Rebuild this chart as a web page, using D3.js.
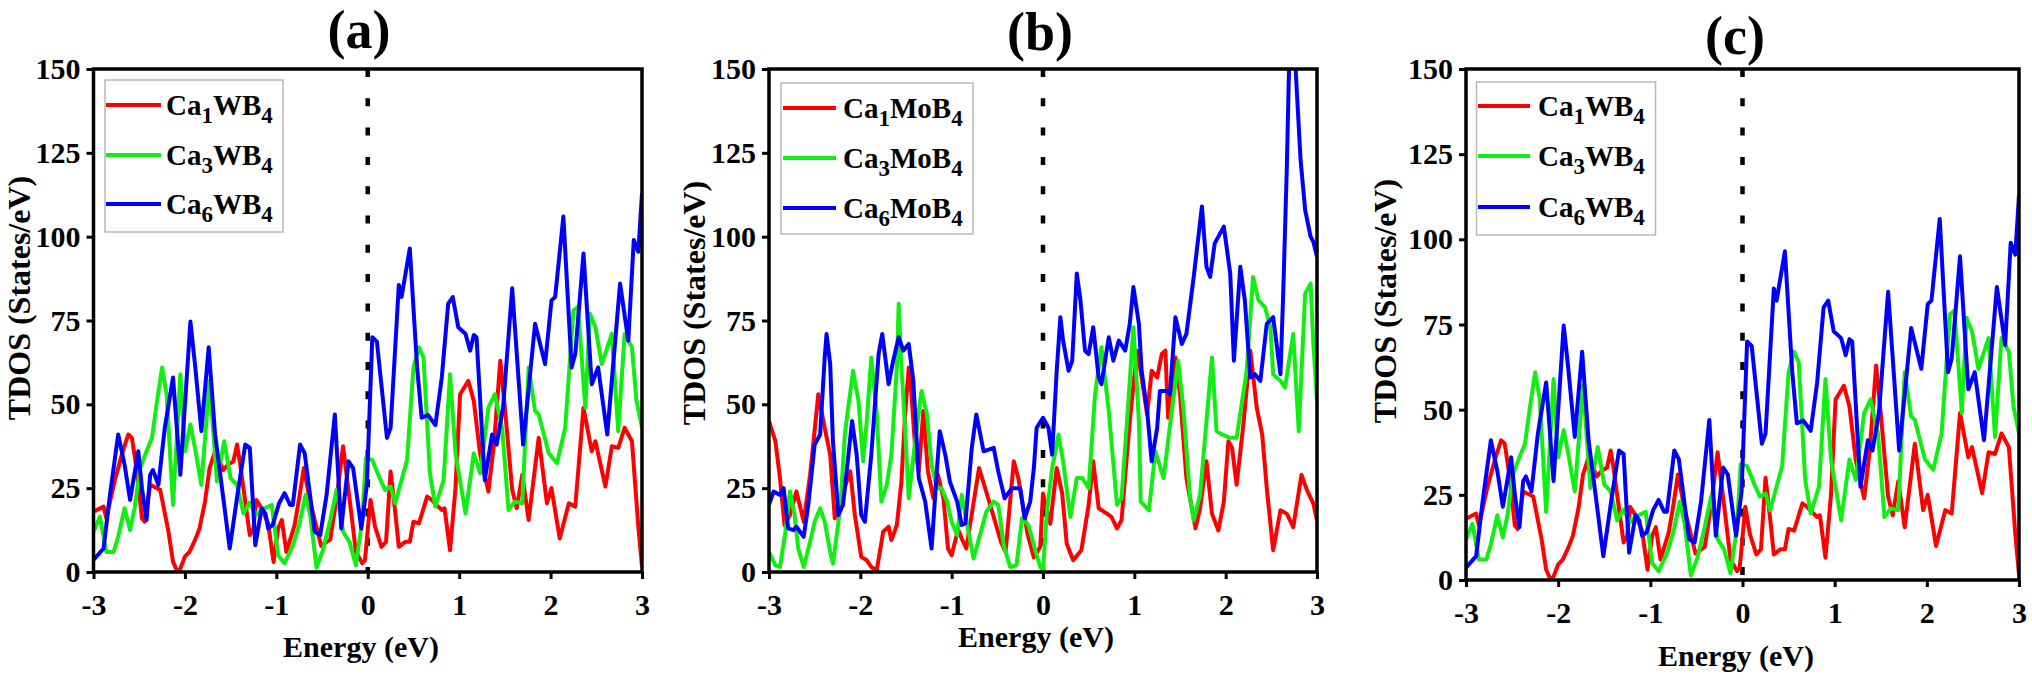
<!DOCTYPE html>
<html>
<head>
<meta charset="utf-8">
<script src="https://cdn.jsdelivr.net/npm/d3@7"></script>
<style>
  body { margin: 0; background: #fff; }
  svg { display: block; }
</style>
</head>
<body>
<svg id="chart" width="2032" height="680"></svg>
<script>
// ticks and labels
var xTicks = [-3, -2, -1, 0, 1, 2, 3];
var yTicks = [0, 25, 50, 75, 100, 125, 150];
var panelTitles = ["(a)", "(b)", "(c)"];
var legendW = ["Ca1WB4", "Ca3WB4", "Ca6WB4"];
var legendMo = ["Ca1MoB4", "Ca3MoB4", "Ca6MoB4"];

// TDOS, [energy eV, states/eV]
var ca1WB4 = [[-3.0,18],[-2.89,19.5],[-2.86,16],[-2.77,27],[-2.69,35],[-2.62,41],[-2.58,40],[-2.53,31],
  [-2.47,16],[-2.44,15],[-2.38,26],[-2.27,24.5],[-2.18,12],[-2.13,3],[-2.09,0.6],[-2.05,1],[-2.0,4.6],
  [-1.95,6],[-1.89,9.5],[-1.84,13],[-1.78,21],[-1.73,31],[-1.67,36],[-1.62,33],[-1.58,30.4],[-1.53,32],
  [-1.47,33],[-1.43,38],[-1.40,33],[-1.34,21],[-1.29,11],[-1.25,13],[-1.22,21.5],[-1.16,19],[-1.09,14.5],
  [-1.03,3],[-0.98,13],[-0.94,15.5],[-0.89,6],[-0.80,14],[-0.75,22],[-0.70,31],[-0.63,21],[-0.51,7.8],
  [-0.41,9.7],[-0.34,22],[-0.27,37.5],[-0.20,22],[-0.13,6],[-0.06,2.6],[-0.03,3.6],[0.03,21.5],[0.08,13.5],
  [0.15,7.5],[0.20,9],[0.25,30],[0.30,18],[0.34,7.5],[0.41,9],[0.46,9],[0.50,15],[0.56,14.5],[0.65,22.5],
  [0.70,21.5],[0.77,19.5],[0.81,18.5],[0.84,19],[0.90,6.5],[0.96,25],[1.01,53],[1.10,57],[1.16,51],
  [1.23,35],[1.32,24],[1.38,38],[1.45,63],[1.50,49],[1.58,24.5],[1.63,19],[1.69,29],[1.76,15.5],[1.87,40],
  [1.96,20.5],[2.01,25],[2.10,10],[2.20,20.5],[2.27,19.5],[2.36,49],[2.45,36],[2.49,39],[2.60,25.5],
  [2.67,37.5],[2.74,37],[2.81,43],[2.89,39],[2.96,13.5],[3.0,1.6]];

var ca3WB4 = [[-3.0,12],[-2.93,16.5],[-2.86,6],[-2.78,6],[-2.73,10.5],[-2.66,19],[-2.60,12.5],[-2.55,19],
  [-2.49,31],[-2.42,36],[-2.36,40],[-2.31,50],[-2.25,61],[-2.20,53],[-2.13,20],[-2.05,59],[-2.00,36],
  [-1.94,44],[-1.89,37],[-1.82,26],[-1.73,57],[-1.65,27],[-1.57,39],[-1.50,28],[-1.43,26],[-1.36,17.5],
  [-1.29,20.7],[-1.22,17],[-1.15,18.7],[-1.05,20],[-0.98,5],[-0.91,2.6],[-0.82,7.8],[-0.75,14],[-0.68,23],
  [-0.63,17],[-0.56,1.3],[-0.49,6.5],[-0.41,15.5],[-0.34,24.6],[-0.27,12],[-0.20,9],[-0.13,2],[-0.06,15.5],
  [-0.02,34],[0.05,33.4],[0.14,27.4],[0.19,24.5],[0.25,25.4],[0.30,20.5],[0.43,33.4],[0.50,61],[0.56,67],
  [0.61,64],[0.68,29.4],[0.74,19.5],[0.83,27.4],[0.90,59],[0.96,35.4],[1.07,17.5],[1.16,35.4],[1.23,29.4],
  [1.32,49],[1.39,53],[1.47,43],[1.54,18.5],[1.61,21],[1.69,20.5],[1.76,61],[1.83,48],[1.87,47],[1.98,35.4],
  [2.07,32.4],[2.16,43],[2.25,78],[2.30,79],[2.38,49],[2.43,77],[2.49,73],[2.56,62],[2.67,71],[2.74,42],
  [2.81,71],[2.89,67],[2.94,51],[3.0,43]];

var ca6WB4 = [[-3.0,3.6],[-2.89,7],[-2.82,23],[-2.73,41],[-2.66,32],[-2.60,21.5],[-2.51,36],[-2.47,25],
  [-2.42,15.5],[-2.38,29],[-2.35,30.4],[-2.29,26],[-2.22,43],[-2.13,58],[-2.05,29],[-1.94,74.7],[-1.89,62],
  [-1.82,42],[-1.74,67],[-1.67,41],[-1.58,22],[-1.51,7],[-1.42,24],[-1.34,38],[-1.29,37],[-1.23,8],
  [-1.16,19],[-1.12,17.5],[-1.09,13],[-1.04,14],[-0.97,20.5],[-0.91,23.5],[-0.85,20],[-0.82,20],[-0.74,38],
  [-0.69,35.4],[-0.58,12],[-0.52,11],[-0.45,23],[-0.36,47],[-0.29,13],[-0.21,33],[-0.16,31],[-0.07,13],
  [-0.01,26],[0.05,70],[0.10,68.7],[0.21,40],[0.25,43],[0.34,85.6],[0.37,82],[0.46,96.5],[0.54,61],
  [0.59,46],[0.66,46.8],[0.74,43.8],[0.81,58],[0.88,80],[0.93,82],[0.99,73],[1.07,71],[1.12,66],[1.16,70.7],
  [1.19,70],[1.28,27.4],[1.36,41],[1.41,38],[1.48,49],[1.58,84.6],[1.70,38],[1.83,74],[1.94,62],[2.01,81],
  [2.05,82],[2.14,106],[2.23,61],[2.27,65],[2.36,95],[2.45,56],[2.52,61],[2.62,41],[2.76,86],[2.85,69],
  [2.91,99],[2.96,95.5],[3.0,113]];

var ca1MoB4 = [[-3.0,45],[-2.93,39],[-2.88,28],[-2.83,14],[-2.77,17],[-2.70,24],[-2.62,15],[-2.55,29],
  [-2.46,53],[-2.39,43],[-2.33,35],[-2.28,16],[-2.20,23],[-2.11,30],[-2.06,17],[-1.99,4.5],[-1.93,3.5],
  [-1.88,1.5],[-1.82,0.5],[-1.75,12],[-1.69,13.5],[-1.66,9.5],[-1.60,14],[-1.55,27],[-1.51,47],[-1.47,61],
  [-1.44,53],[-1.40,37],[-1.36,30],[-1.31,48],[-1.26,30],[-1.20,22],[-1.15,29],[-1.09,22],[-1.04,7],[-1.0,5],
  [-0.93,12.7],[-0.89,10],[-0.84,7],[-0.70,31],[-0.60,22],[-0.46,9],[-0.41,6],[-0.32,33],[-0.27,28],
  [-0.17,11.4],[-0.10,4.3],[-0.03,7.5],[0.0,23.4],[0.08,14.4],[0.15,31],[0.21,23.4],[0.26,8.4],[0.33,3.5],
  [0.42,6.5],[0.50,20],[0.55,33],[0.61,19],[0.70,17.4],[0.75,16.4],[0.81,13],[0.86,15.4],[0.95,45],[1.03,66],
  [1.08,58],[1.14,47],[1.19,60],[1.25,58],[1.30,65],[1.34,66],[1.37,46],[1.45,64],[1.50,53],[1.57,28],
  [1.67,13],[1.72,19],[1.79,33],[1.85,17.4],[1.92,12.4],[1.98,21],[2.03,39],[2.07,37],[2.12,26],[2.19,43],
  [2.27,66],[2.34,49],[2.40,41],[2.45,25],[2.52,6.5],[2.60,18.4],[2.67,17.4],[2.74,13.4],[2.83,29],
  [2.89,24.4],[2.96,20.4],[3.0,15.4]];

var ca3MoB4 = [[-3.0,6],[-2.93,2],[-2.88,1.5],[-2.82,12],[-2.77,24],[-2.72,17],[-2.68,7],[-2.62,1.5],
  [-2.55,9],[-2.50,15],[-2.44,19],[-2.39,15],[-2.33,6],[-2.30,2.5],[-2.22,19],[-2.17,41],[-2.08,60],[-2.02,51],
  [-1.97,33],[-1.93,45],[-1.88,64],[-1.82,47],[-1.77,21],[-1.71,26],[-1.66,35],[-1.60,61],[-1.58,80],
  [-1.55,61],[-1.51,43],[-1.47,22],[-1.40,39],[-1.33,54],[-1.27,47],[-1.22,32],[-1.16,25],[-1.11,25],
  [-1.05,21],[-1.0,15],[-0.94,11],[-0.89,23],[-0.83,14],[-0.76,4],[-0.69,11],[-0.62,18],[-0.54,21],[-0.49,20],
  [-0.43,8],[-0.36,1.5],[-0.29,2],[-0.23,16],[-0.16,14],[-0.09,7],[-0.03,1.5],[0.0,0.5],[0.04,17],[0.10,31],
  [0.17,41],[0.22,33],[0.30,16.4],[0.37,28],[0.43,28],[0.50,25],[0.57,53],[0.64,67],[0.72,48],[0.81,20],
  [0.86,22],[0.94,53],[0.99,73],[1.05,45],[1.07,21],[1.16,18.4],[1.23,36],[1.32,28],[1.41,48],[1.48,63],
  [1.54,48],[1.61,22],[1.65,15.4],[1.72,23],[1.85,64],[1.90,42],[1.96,41],[2.05,40],[2.12,40],[2.23,60],
  [2.30,88],[2.36,81],[2.43,79],[2.49,73],[2.52,59],[2.60,57],[2.65,55],[2.74,71],[2.80,42],[2.87,83],
  [2.93,86],[2.96,68],[3.0,51]];

var ca6MoB4 = [[-3.0,20],[-2.95,24],[-2.88,23],[-2.84,25],[-2.79,13],[-2.73,12.5],[-2.70,13.5],[-2.62,10.5],
  [-2.57,20],[-2.50,38],[-2.44,41],[-2.39,64],[-2.37,71],[-2.33,62],[-2.30,39],[-2.24,17],[-2.19,20],
  [-2.13,35],[-2.09,45],[-2.04,35],[-1.99,17],[-1.95,15],[-1.88,35],[-1.80,65],[-1.76,71],[-1.69,56],
  [-1.64,63],[-1.58,70],[-1.53,66],[-1.47,68],[-1.42,57],[-1.36,28],[-1.29,21],[-1.22,7],[-1.16,31],
  [-1.13,42],[-1.07,35],[-1.02,27],[-0.94,21],[-0.89,14],[-0.85,14.5],[-0.78,37],[-0.73,47],[-0.65,36],
  [-0.54,37],[-0.49,30],[-0.42,22],[-0.34,25],[-0.25,25],[-0.20,16],[-0.14,21],[-0.10,31],[-0.07,43],
  [0.0,46],[0.06,43],[0.10,35],[0.15,60],[0.19,76],[0.22,69],[0.28,60],[0.32,63],[0.37,89],[0.41,81],
  [0.46,66],[0.50,65],[0.55,73],[0.61,58],[0.64,56],[0.72,70],[0.77,63],[0.83,69],[0.90,66],[0.95,74],
  [0.99,85],[1.05,74],[1.08,60],[1.14,48],[1.19,33],[1.25,43],[1.28,54],[1.36,54],[1.39,53],[1.45,76],
  [1.52,68],[1.57,71],[1.65,88],[1.74,109],[1.79,91],[1.83,88],[1.88,98],[1.98,103],[2.05,89],[2.09,63],
  [2.16,91],[2.21,81],[2.27,58],[2.32,59],[2.38,57],[2.45,74],[2.52,76],[2.60,59],[2.63,83],[2.67,121],
  [2.70,158],[2.75,158],[2.82,123],[2.87,108],[2.93,100],[2.96,98.5],[3.0,94]];

// layout
var serif = "'Liberation Serif', 'Times New Roman', Times, serif";
var colors = ["#ff0000", "#11ee11", "#0000ff"];
var panels = [
  { title: panelTitles[0], labels: legendW, series: [ca1WB4, ca3WB4, ca6WB4],
    left: 93.5, right: 642, top: 69, bottom: 572,
    titlePos: [359, 48], xlabPos: [361, 657], ylabPos: [19, 298],
    legend: { x: 105, y: 80, w: 178, h: 152, rows: [105, 155, 204], lineX: [106, 161], textX: 166 } },
  { title: panelTitles[1], labels: legendMo, series: [ca1MoB4, ca3MoB4, ca6MoB4],
    left: 769, right: 1317, top: 69, bottom: 572,
    titlePos: [1040, 50], xlabPos: [1036, 647], ylabPos: [694, 303],
    legend: { x: 781, y: 83, w: 192, h: 151, rows: [108, 158, 208], lineX: [783, 836], textX: 843 } },
  { title: panelTitles[2], labels: legendW, series: [ca1WB4, ca3WB4, ca6WB4],
    left: 1466, right: 2019, top: 69, bottom: 580,
    titlePos: [1735, 54], xlabPos: [1736, 666], ylabPos: [1385, 301],
    legend: { x: 1476.5, y: 82, w: 179, h: 153, rows: [106, 156, 207], lineX: [1478, 1530], textX: 1538 } }
];

var svg = d3.select("#chart");
svg.append("rect").attr("width", 2032).attr("height", 680).attr("fill", "#fff");

panels.forEach(function(p, pi) {

  var x = d3.scaleLinear().domain([-3, 3]).range([p.left, p.right]);
  var y = d3.scaleLinear().domain([0, 150]).range([p.bottom, p.top]);

  var g = svg.append("g");

  g.append("clipPath").attr("id", "clip" + pi)
    .append("rect")
    .attr("x", p.left).attr("y", p.top)
    .attr("width", p.right - p.left).attr("height", p.bottom - p.top);

  // dotted Fermi level
  g.append("line")
    .attr("x1", x(0)).attr("x2", x(0))
    .attr("y1", y(150)).attr("y2", y(0))
    .attr("stroke", "#000")
    .attr("stroke-width", 4.5)
    .attr("stroke-dasharray", "8,21.3");

  var line = d3.line()
    .x(function(d) { return x(d[0]); })
    .y(function(d) { return y(d[1]); });

  g.append("g").attr("clip-path", "url(#clip" + pi + ")")
    .selectAll("path")
    .data(p.series)
    .enter().append("path")
    .attr("d", line)
    .attr("fill", "none")
    .attr("stroke", function(d, i) { return colors[i]; })
    .attr("stroke-width", 4)
    .attr("stroke-linejoin", "round");

  // axes
  var xAxis = d3.axisBottom(x).tickValues(xTicks)
    .tickSize(7).tickPadding(15)
    .tickFormat(function(d) { return String(d); });
  var yAxis = d3.axisLeft(y).tickValues(yTicks)
    .tickSize(7).tickPadding(6);

  [[xAxis, "translate(0," + p.bottom + ")"], [yAxis, "translate(" + p.left + ",0)"]]
    .forEach(function(a) {
      var ax = g.append("g")
        .attr("transform", a[1])
        .call(a[0]);
      ax.attr("font-family", serif).attr("font-size", 30).attr("font-weight", "bold");
      ax.select(".domain").remove();
      ax.selectAll("line").attr("stroke", "#000").attr("stroke-width", 3);
      ax.selectAll("text").attr("fill", "#000");
    });

  // frame
  g.append("rect")
    .attr("x", p.left).attr("y", p.top)
    .attr("width", p.right - p.left).attr("height", p.bottom - p.top)
    .attr("fill", "none").attr("stroke", "#000").attr("stroke-width", 3.5);

  // legend
  var lg = p.legend;
  g.append("rect")
    .attr("x", lg.x).attr("y", lg.y).attr("width", lg.w).attr("height", lg.h)
    .attr("fill", "#fff").attr("stroke", "#b8b8b8").attr("stroke-width", 1.5);

  p.labels.forEach(function(lab, i) {
    g.append("line")
      .attr("x1", lg.lineX[0]).attr("x2", lg.lineX[1])
      .attr("y1", lg.rows[i]).attr("y2", lg.rows[i])
      .attr("stroke", colors[i]).attr("stroke-width", 4);

    var t = g.append("text")
      .attr("x", lg.textX).attr("y", lg.rows[i] + 9.5)
      .attr("font-family", serif).attr("font-size", 29).attr("font-weight", "bold")
      .attr("fill", "#000");
    // digits drawn lowered, as in the figure
    var parts = lab.match(/\d+|\D+/g);
    var low = false;
    parts.forEach(function(s) {
      var isNum = /\d/.test(s);
      var dy = 0;
      if (isNum && !low) { dy = 8; low = true; }
      else if (!isNum && low) { dy = -8; low = false; }
      t.append("tspan")
        .attr("dy", dy)
        .attr("font-size", isNum ? 23 : 29)
        .text(s);
    });
  });

  // titles
  g.append("text")
    .attr("x", p.titlePos[0]).attr("y", p.titlePos[1])
    .attr("text-anchor", "middle")
    .attr("font-family", serif).attr("font-size", 54).attr("font-weight", "bold")
    .text(p.title);

  g.append("text")
    .attr("x", p.xlabPos[0]).attr("y", p.xlabPos[1])
    .attr("text-anchor", "middle")
    .attr("font-family", serif).attr("font-size", 30).attr("font-weight", "bold")
    .text("Energy (eV)");

  g.append("text")
    .attr("transform", "translate(" + p.ylabPos[0] + "," + p.ylabPos[1] + ") rotate(-90)")
    .attr("text-anchor", "middle")
    .attr("dy", "0.35em")
    .attr("font-family", serif).attr("font-size", 32).attr("font-weight", "bold")
    .text("TDOS (States/eV)");
});
</script>
</body>
</html>
